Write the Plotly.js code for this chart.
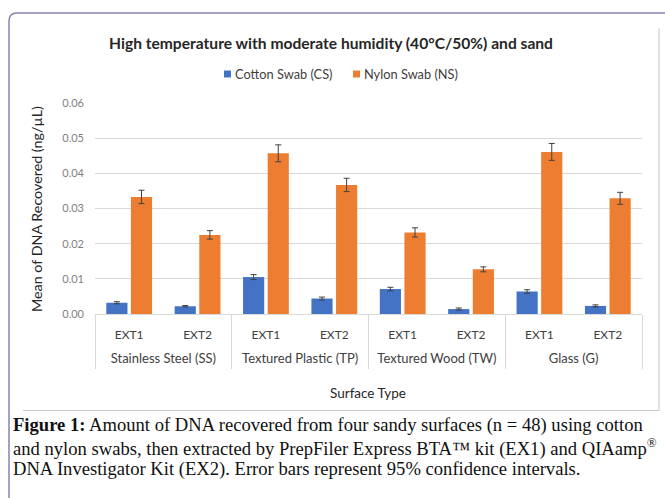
<!DOCTYPE html>
<html>
<head>
<meta charset="utf-8">
<script src="https://cdn.plot.ly/plotly-3.0.1.min.js"></script>
<style>
  html, body { margin: 0; padding: 0; background: #ffffff; }
  #chart { width: 665px; height: 498px; }
</style>
</head>
<body>
<div id="chart"></div>
<script>
// ---- data ----
const surfaces = ['Stainless Steel (SS)', 'Textured Plastic (TP)', 'Textured Wood (TW)', 'Glass (G)'];
const kits = ['EXT1', 'EXT2'];
const seriesNames = ['Cotton Swab (CS)', 'Nylon Swab (NS)'];
const cottonMean = [0.0032, 0.0022, 0.0105, 0.0044, 0.0071, 0.0014, 0.0064, 0.0023];
const cottonCI   = [0.0003, 0.0002, 0.0007, 0.0004, 0.0005, 0.0003, 0.0005, 0.0003];
const nylonMean  = [0.0333, 0.0225, 0.0457, 0.0367, 0.0232, 0.0127, 0.0461, 0.0329];
const nylonCI    = [0.0019, 0.0012, 0.0024, 0.0019, 0.0013, 0.0007, 0.0024, 0.0017];
const yTicks = [0, 0.01, 0.02, 0.03, 0.04, 0.05, 0.06];

const chartTitle = 'High temperature with moderate humidity (40°C/50%) and sand';
const xTitle = 'Surface Type';
const yTitle = 'Mean of DNA Recovered (ng/µL)';
const captionLines = [
  '<b>Figure 1:</b> Amount of DNA recovered from four sandy surfaces (n = 48) using cotton',
  'and nylon swabs, then extracted by PrepFiler Express BTA™ kit (EX1) and QIAamp<sup>®</sup>',
  'DNA Investigator Kit (EX2). Error bars represent 95% confidence intervals.'
];

// ---- layout geometry ----
const W = 665, H = 498;
const M = {l: 95, r: 23, t: 103, b: 184};
const PW = W - M.l - M.r, PH = H - M.t - M.b;
const px = v => (v - M.l) / PW;          // pixel x -> paper x
const py = v => (H - M.b - v) / PH;      // pixel y -> paper y

const blue = '#4472C4', orange = '#ED7D31';
const sans = 'Lato, "Open Sans", sans-serif';

// category slots: one per (surface, kit) pair
const slotPos = [], slotText = [];
surfaces.forEach((s, i) => kits.forEach((k, j) => { slotPos.push(i * kits.length + j); slotText.push(k); }));
const groupCenters = surfaces.map((s, i) => i * kits.length + (kits.length - 1) / 2);
const groupEdges = [-0.5].concat(surfaces.map((s, i) => (i + 1) * kits.length - 0.5));
const xRange = [-0.5, slotPos.length - 0.5];

const errStyle = {type: 'data', visible: true, color: '#404040', thickness: 1, width: 3};

const traces = [
  {type: 'bar', name: seriesNames[0], x: slotPos, y: cottonMean,
   marker: {color: blue}, error_y: Object.assign({array: cottonCI}, errStyle), showlegend: false},
  {type: 'bar', name: seriesNames[1], x: slotPos, y: nylonMean,
   marker: {color: orange}, error_y: Object.assign({array: nylonCI}, errStyle), showlegend: false},
  // empty helper traces so the overlaid label / divider axes get drawn
  {type: 'scatter', mode: 'markers', x: groupCenters, y: groupCenters.map(() => null),
   xaxis: 'x2', yaxis: 'y', showlegend: false, hoverinfo: 'skip'},
  {type: 'scatter', mode: 'markers', x: groupEdges, y: groupEdges.map(() => null),
   xaxis: 'x3', yaxis: 'y', showlegend: false, hoverinfo: 'skip'}
];

const annotations = [
  // legend texts
  {xref: 'paper', yref: 'paper', x: px(233), y: py(74), xanchor: 'left', yanchor: 'middle',
   text: seriesNames[0], showarrow: false, font: {family: sans, size: 12.8, color: '#404040'}},
  {xref: 'paper', yref: 'paper', x: px(362), y: py(74), xanchor: 'left', yanchor: 'middle',
   text: seriesNames[1], showarrow: false, font: {family: sans, size: 12.8, color: '#404040'}},
  // y axis title
  {xref: 'paper', yref: 'paper', x: px(36), y: py(209), xanchor: 'center', yanchor: 'middle',
   text: yTitle, textangle: -90, showarrow: false, font: {family: sans, size: 14.3, color: '#262626'}},
  // x axis title
  {xref: 'paper', yref: 'paper', x: px(368), y: py(393), xanchor: 'center', yanchor: 'middle',
   text: xTitle, showarrow: false, font: {family: sans, size: 13.5, color: '#262626'}}
];
captionLines.forEach((t, i) => {
  annotations.push({xref: 'paper', yref: 'paper', x: px(11), y: py(425 + 22 * i),
    xanchor: 'left', yanchor: 'middle', align: 'left', text: t, showarrow: false,
    font: {family: '"Liberation Serif", "Times New Roman", serif', size: 18.6, color: '#111111'}});
});

const shapes = [
  // outer rounded frame (left + top)
  {type: 'path', xref: 'paper', yref: 'paper',
   path: `M ${px(9)} ${py(505)} L ${px(9)} ${py(21)} Q ${px(9)} ${py(13)} ${px(17)} ${py(13)} L ${px(670)} ${py(13)}`,
   line: {color: '#8582B2', width: 1.5}},
  // chart area box (right + bottom)
  {type: 'line', xref: 'paper', yref: 'paper', x0: px(659), x1: px(659), y0: py(28), y1: py(410.5),
   line: {color: '#C8C8C8', width: 1}},
  {type: 'line', xref: 'paper', yref: 'paper', x0: px(23), x1: px(659), y0: py(410.5), y1: py(410.5),
   line: {color: '#C8C8C8', width: 1}},
  // legend swatches
  {type: 'rect', xref: 'paper', yref: 'paper', x0: px(224), x1: px(231), y0: py(70.5), y1: py(77.5),
   fillcolor: blue, line: {width: 0}},
  {type: 'rect', xref: 'paper', yref: 'paper', x0: px(353), x1: px(360), y0: py(70.5), y1: py(77.5),
   fillcolor: orange, line: {width: 0}}
];

const layout = {
  width: W, height: H,
  margin: M,
  paper_bgcolor: '#ffffff', plot_bgcolor: '#ffffff',
  title: {text: '<b>' + chartTitle + '</b>', xref: 'paper', x: px(331), xanchor: 'center',
          yref: 'container', y: 1 - 44 / H, yanchor: 'middle',
          font: {family: sans, size: 15.6, color: '#262626'}},
  showlegend: false,
  barmode: 'group', bargap: 0.28, bargroupgap: 0.14,
  // kit labels (EXT1 / EXT2)
  xaxis: {range: xRange, tickvals: slotPos, ticktext: slotText, ticks: '', ticklabelstandoff: 10,
          showline: true, linecolor: '#D9D9D9', linewidth: 1, showgrid: false, zeroline: false,
          tickfont: {family: sans, size: 12, color: '#404040'}, fixedrange: true},
  // surface group labels
  xaxis2: {overlaying: 'x', anchor: 'y', side: 'bottom', range: xRange,
           tickvals: groupCenters, ticktext: surfaces, ticks: '', ticklabelstandoff: 35,
           showline: false, showgrid: false, zeroline: false,
           tickfont: {family: sans, size: 13, color: '#404040'}, fixedrange: true},
  // group dividers
  xaxis3: {overlaying: 'x', anchor: 'y', side: 'bottom', range: xRange,
           tickvals: groupEdges, ticks: 'outside', ticklen: 54, tickwidth: 1, tickcolor: '#D9D9D9',
           showticklabels: false, showline: false, showgrid: false, zeroline: false, fixedrange: true},
  yaxis: {range: [0, 0.06], tickvals: yTicks, tickformat: '.2f', showline: false, zeroline: false,
          gridcolor: '#D9D9D9', gridwidth: 1, ticks: '', ticklabelstandoff: 10,
          tickfont: {family: sans, size: 11, color: '#7F7F7F'}, fixedrange: true},
  annotations: annotations,
  shapes: shapes
};

Plotly.newPlot('chart', traces, layout, {staticPlot: true, displayModeBar: false});
</script>
</body>
</html>
